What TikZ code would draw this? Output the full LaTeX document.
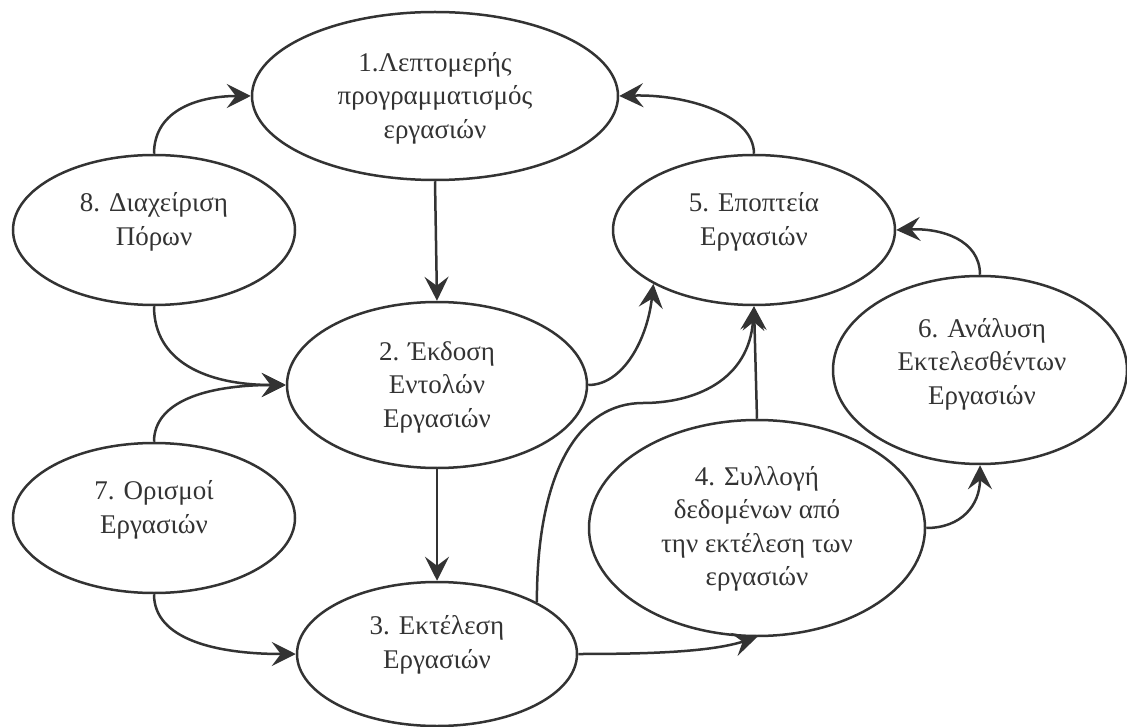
\documentclass[tikz,border=0pt]{standalone}
\usepackage{fontspec}
\setmainfont{Liberation Serif}
\usetikzlibrary{arrows.meta,shapes.geometric}
\definecolor{ink}{HTML}{333333}
\begin{document}
\begin{tikzpicture}[x=1pt,y=-1pt,
  ell/.style={ellipse, draw=ink, line width=2.5pt, inner sep=0pt},
  lbl/.style={align=center, text=ink, font=\fontsize{27}{33.5}\selectfont, inner sep=0pt},
  conn/.style={draw=ink, line width=2.5pt, -{Stealth[length=24pt,width=24pt,inset=9pt]}}]
\useasboundingbox (0,0) rectangle (1127,727);

% ellipses
\node[ell, minimum width=366pt, minimum height=168pt] (e1) at (435,96) {};
\node[ell, minimum width=282pt, minimum height=150pt] (e8) at (154,230) {};
\node[ell, minimum width=282pt, minimum height=150pt] (e5) at (754,230) {};
\node[ell, minimum width=300pt, minimum height=166pt] (e2) at (437,385) {};
\node[ell, minimum width=294pt, minimum height=188pt] (e6) at (980,370) {};
\node[ell, minimum width=336pt, minimum height=216pt] (e4) at (757,528) {};
\node[ell, minimum width=282pt, minimum height=150pt] (e7) at (154,518) {};
\node[ell, minimum width=280pt, minimum height=144pt] (e3) at (437,654) {};

% labels
\node[lbl] (t1) at (435,98) {1.Λεπτομερής\\προγραμματισμός\\εργασιών};
\node[lbl] (t8) at (154,222) {8. Διαχείριση\\Πόρων};
\node[lbl] (t5) at (754,222) {5. Εποπτεία\\Εργασιών};
\node[lbl] (t2) at (437,387) {2. Έκδοση\\Εντολών\\Εργασιών};
\node[lbl] (t6) at (982,364) {6. Ανάλυση\\Εκτελεσθέντων\\Εργασιών};
\node[lbl] (t4) at (757,529) {4. Συλλογή\\δεδομένων από\\την εκτέλεση των\\εργασιών};
\node[lbl] (t7) at (154,510) {7. Ορισμοί\\Εργασιών};
\node[lbl] (t3) at (437,645) {3. Εκτέλεση\\Εργασιών};

% connectors
\draw[conn] (e8.north) .. controls +(0,-45) and +(-50,0) .. (e1.west);
\draw[conn] (e5.north) .. controls +(0,-40) and +(65,-2) .. (e1.east);
\draw[conn] (e1.south) -- (e2.north);
\draw[conn] (e8.south) .. controls +(0,55) and +(-80,0) .. (e2.west);
\draw[conn] (e7.north) .. controls +(0,-40) and +(-80,0) .. (e2.west);
\draw[conn] (e7.south) .. controls +(0,45) and +(-80,0) .. (e3.west);
\draw[conn] (e2.south) -- (e3.north);
\draw[conn] (e2.east) .. controls +(35,0) and +(-6,55) .. (e5.south west);
\coordinate (k35) at (643,403);
\draw[conn] (e3.north east) .. controls +(0,-133) and +(-63,0) .. (k35)
   .. controls +(52,0) and +(-5,74) .. (e5.south);
\draw[conn] (e4.north) -- (e5.south);
\draw[conn] (e3.east) .. controls +(80,0) and +(-45,14) .. (e4.south);
\draw[conn] (e4.east) .. controls +(35,0) and +(0,40) .. (e6.south);
\draw[conn] (e6.north) .. controls +(0,-35) and +(45,-2) .. (e5.east);
\end{tikzpicture}
\end{document}
